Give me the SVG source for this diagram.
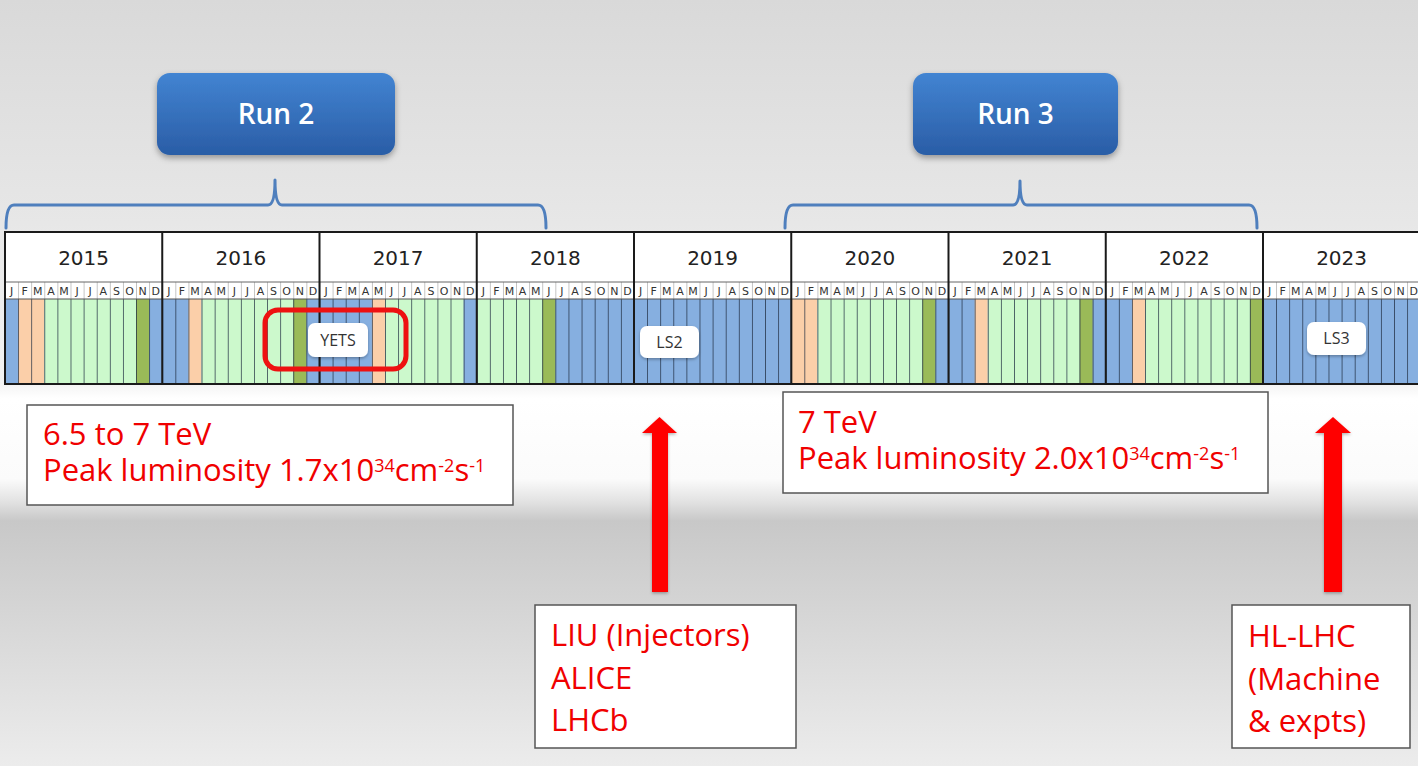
<svg xmlns="http://www.w3.org/2000/svg" width="1418" height="766" viewBox="0 0 1418 766">
<defs>
<linearGradient id="bgGrad" x1="0" y1="0" x2="0" y2="1">
<stop offset="0" stop-color="#d9d9d9"/>
<stop offset="0.29" stop-color="#e7e7e7"/>
<stop offset="0.5" stop-color="#f3f3f3"/>
<stop offset="0.52" stop-color="#ffffff"/>
<stop offset="0.625" stop-color="#fbfbfb"/>
<stop offset="0.655" stop-color="#e2e2e2"/>
<stop offset="0.68" stop-color="#c8c8c8"/>
<stop offset="1" stop-color="#ececec"/>
</linearGradient>
<linearGradient id="runGrad" x1="0" y1="0" x2="0" y2="1">
<stop offset="0" stop-color="#4284d2"/>
<stop offset="1" stop-color="#2a5da6"/>
</linearGradient>
<filter id="shadow" x="-20%" y="-20%" width="140%" height="150%">
<feDropShadow dx="0" dy="3" stdDeviation="3" flood-color="#000" flood-opacity="0.35"/>
</filter>
<filter id="softShadow" x="-20%" y="-20%" width="140%" height="150%">
<feDropShadow dx="0" dy="1.5" stdDeviation="1.5" flood-color="#000" flood-opacity="0.3"/>
</filter>
<pattern id="mgrid" x="5" y="0" width="13.104" height="20" patternUnits="userSpaceOnUse">
<rect x="-0.5" y="0" width="1.2" height="20" fill="#1e2c40"/>
</pattern>
<pattern id="mgridLight" x="5" y="0" width="13.104" height="20" patternUnits="userSpaceOnUse">
<rect x="-0.5" y="0" width="1" height="20" fill="#8a8a8a"/>
</pattern>
<style>
.yr{font-family:"DejaVu Sans",Verdana,sans-serif;font-size:20px;fill:#222;text-anchor:middle}
.mo{font-family:"DejaVu Sans",Verdana,sans-serif;font-size:11px;fill:#333;text-anchor:middle}
.run{font-family:"Open Sans",sans-serif;font-size:28px;font-weight:600;fill:#fff;text-anchor:middle}
.tag{font-family:"Open Sans",sans-serif;font-size:16px;fill:#333;text-anchor:middle}
.red{font-family:"Open Sans",sans-serif;font-size:31px;fill:#f00000}
.sup{font-size:18px}
.box{fill:#fff;stroke:#555;stroke-width:1.5}
.brace{fill:none;stroke:#4f7fbd;stroke-width:3;stroke-linejoin:round;stroke-linecap:round}
.B{fill:#86afe0}.P{fill:#fbcfa9}.G{fill:#ccf9cc}.D{fill:#9aba58}
.arrow{fill:#ff0000;filter:url(#softShadow)}
</style>
</defs>

<rect id="background" x="0" y="0" width="1418" height="766" fill="url(#bgGrad)"/>

<g id="run2">
<rect x="157" y="73" width="238" height="82" rx="13" fill="url(#runGrad)" filter="url(#shadow)"/>
<text class="run" x="276" y="124">Run 2</text>
</g>
<g id="run3">
<rect x="913" y="73" width="205" height="82" rx="13" fill="url(#runGrad)" filter="url(#shadow)"/>
<text class="run" x="1015.5" y="124">Run 3</text>
</g>

<g id="connectors">
<path class="brace" d="M6 228 Q6 205 14 205 L268 205 Q275 205 275 180 Q275 205 282 205 L538 205 Q546 205 546 228"/>
<path class="brace" d="M785 228 Q785 205 793 205 L1013 205 Q1020 205 1020 181 Q1020 205 1027 205 L1249 205 Q1257 205 1257 228"/>
<path class="arrow" d="M652 592 L652 433 L642 433 L659.5 417 L677 433 L668 433 L668 592 Z"/>
<path class="arrow" d="M1324 592 L1324 433 L1315 433 L1333 417 L1351 433 L1342 433 L1342 592 Z"/>
</g>

<g id="timeline">
<rect x="4" y="232" width="1414" height="50" fill="#fff"/>
<rect x="4" y="282" width="1414" height="17" fill="#fff"/>
<rect x="4" y="282" width="1414" height="17" fill="url(#mgridLight)"/>
<rect class="B" x="4" y="299" width="1414" height="85"/>
<rect class="P" x="18.1" y="299" width="26.21" height="85"/>
<rect class="G" x="44.31" y="299" width="91.73" height="85"/>
<rect class="D" x="136.04" y="299" width="13.1" height="85"/>
<rect class="P" x="188.46" y="299" width="13.1" height="85"/>
<rect class="G" x="201.56" y="299" width="91.73" height="85"/>
<rect class="D" x="293.29" y="299" width="13.1" height="85"/>
<rect class="P" x="371.92" y="299" width="13.1" height="85"/>
<rect class="G" x="385.02" y="299" width="78.63" height="85"/>
<rect class="G" x="476.75" y="299" width="65.52" height="85"/>
<rect class="D" x="542.27" y="299" width="13.1" height="85"/>
<rect class="P" x="791.25" y="299" width="26.21" height="85"/>
<rect class="G" x="817.46" y="299" width="104.83" height="85"/>
<rect class="D" x="922.29" y="299" width="13.1" height="85"/>
<rect class="P" x="974.71" y="299" width="13.1" height="85"/>
<rect class="G" x="987.81" y="299" width="91.73" height="85"/>
<rect class="D" x="1079.54" y="299" width="13.1" height="85"/>
<rect class="P" x="1131.96" y="299" width="13.1" height="85"/>
<rect class="G" x="1145.06" y="299" width="104.83" height="85"/>
<rect class="D" x="1249.9" y="299" width="13.1" height="85"/>
<rect x="4" y="299" width="1414" height="85" fill="url(#mgrid)"/>
<g fill="none" stroke="#1a1a1a">
<path d="M4 232 H1418" stroke-width="2"/>
<path d="M4 282 H1418" stroke-width="1" stroke="#666"/>
<path d="M4 299 H1418" stroke-width="1" stroke="#555"/>
<path d="M4 384 H1418" stroke-width="2"/>
<path d="M5 232 V385 M162.25 232 V385 M319.5 232 V385 M476.75 232 V385 M634 232 V385 M791.25 232 V385 M948.5 232 V385 M1105.75 232 V385 M1263 232 V385" stroke-width="2"/>
</g>
<text class="yr" x="83.6" y="265">2015</text>
<text class="yr" x="240.9" y="265">2016</text>
<text class="yr" x="398.1" y="265">2017</text>
<text class="yr" x="555.4" y="265">2018</text>
<text class="yr" x="712.6" y="265">2019</text>
<text class="yr" x="869.9" y="265">2020</text>
<text class="yr" x="1027.1" y="265">2021</text>
<text class="yr" x="1184.4" y="265">2022</text>
<text class="yr" x="1341.6" y="265">2023</text>
<text class="mo" y="295" x="11.6 24.7 37.8 50.9 64.0 77.1 90.2 103.3 116.4 129.5 142.6 155.7">JFMAMJJASOND</text>
<text class="mo" y="295" x="168.8 181.9 195.0 208.1 221.2 234.3 247.4 260.5 273.6 286.7 299.8 313.0">JFMAMJJASOND</text>
<text class="mo" y="295" x="326.1 339.2 352.3 365.4 378.5 391.6 404.7 417.8 430.9 444.0 457.1 470.2">JFMAMJJASOND</text>
<text class="mo" y="295" x="483.3 496.4 509.5 522.6 535.7 548.8 561.9 575.0 588.1 601.2 614.3 627.5">JFMAMJJASOND</text>
<text class="mo" y="295" x="640.6 653.7 666.8 679.9 693.0 706.1 719.2 732.3 745.4 758.5 771.6 784.7">JFMAMJJASOND</text>
<text class="mo" y="295" x="797.8 810.9 824.0 837.1 850.2 863.3 876.4 889.5 902.6 915.7 928.8 942.0">JFMAMJJASOND</text>
<text class="mo" y="295" x="955.1 968.2 981.3 994.4 1007.5 1020.6 1033.7 1046.8 1059.9 1073.0 1086.1 1099.2">JFMAMJJASOND</text>
<text class="mo" y="295" x="1112.3 1125.4 1138.5 1151.6 1164.7 1177.8 1190.9 1204.0 1217.1 1230.2 1243.3 1256.5">JFMAMJJASOND</text>
<text class="mo" y="295" x="1269.6 1282.7 1295.8 1308.9 1322.0 1335.1 1348.2 1361.3 1374.4 1387.5 1400.6 1413.7">JFMAMJJASOND</text>
</g>

<g id="yets">
<rect x="308" y="323" width="60" height="34" rx="7" fill="#fff" filter="url(#softShadow)"/>
<text class="tag" x="338" y="346">YETS</text>
<rect x="265" y="310" width="141" height="59" rx="13" fill="none" stroke="#ee1111" stroke-width="5"/>
</g>
<g id="ls2">
<rect x="640" y="326" width="59" height="32" rx="7" fill="#fff" filter="url(#softShadow)"/>
<text class="tag" x="669.5" y="348">LS2</text>
</g>
<g id="ls3">
<rect x="1307" y="322" width="59" height="33" rx="7" fill="#fff" filter="url(#softShadow)"/>
<text class="tag" x="1336.5" y="344">LS3</text>
</g>

<g id="run2-info">
<rect class="box" x="27" y="405" width="486" height="100"/>
<text class="red" x="43" y="445">6.5 to 7 TeV</text>
<text class="red" x="43" y="481">Peak luminosity 1.7x10<tspan class="sup" dy="-9">34</tspan><tspan dy="9">cm</tspan><tspan class="sup" dy="-9">-2</tspan><tspan dy="9">s</tspan><tspan class="sup" dy="-9">-1</tspan></text>
</g>
<g id="run3-info">
<rect class="box" x="783" y="392" width="485" height="101"/>
<text class="red" x="798" y="433">7 TeV</text>
<text class="red" x="798" y="469">Peak luminosity 2.0x10<tspan class="sup" dy="-9">34</tspan><tspan dy="9">cm</tspan><tspan class="sup" dy="-9">-2</tspan><tspan dy="9">s</tspan><tspan class="sup" dy="-9">-1</tspan></text>
</g>
<g id="ls2-upgrades">
<rect class="box" x="535" y="605" width="261" height="143"/>
<text class="red" x="551" y="646">LIU (Injectors)</text>
<text class="red" x="551" y="689">ALICE</text>
<text class="red" x="551" y="731">LHCb</text>
</g>
<g id="ls3-upgrades">
<rect class="box" x="1232" y="605" width="178" height="143"/>
<text class="red" x="1248" y="647">HL-LHC</text>
<text class="red" x="1248" y="690">(Machine</text>
<text class="red" x="1248" y="732">&amp; expts)</text>
</g>
</svg>
